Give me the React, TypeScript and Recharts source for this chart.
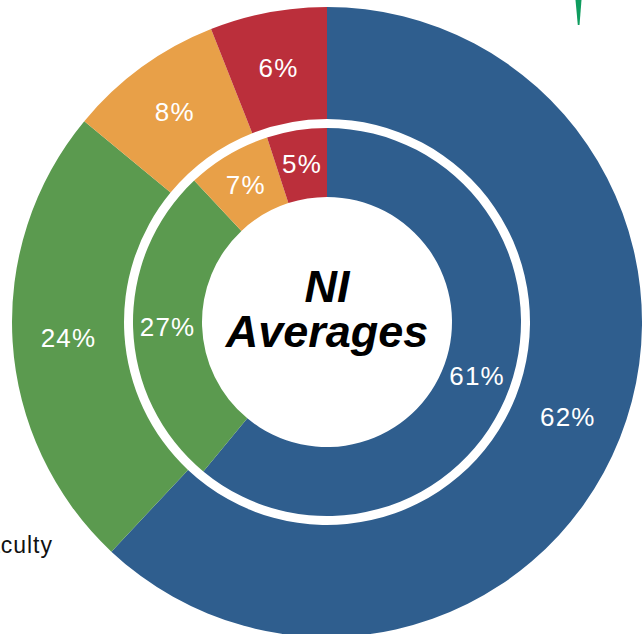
import { Pie, PieChart, Cell, Customized } from "recharts";

const categories = ["Students", "Faculty", "Staff", "Other"];
const outerValues = [62, 24, 8, 6];
const innerValues = [61, 27, 7, 5];
const colors = ["#2F5E8E", "#5B9A4F", "#E8A048", "#BB2F3B"];

const outerData = categories.map((name, i) => ({ name, value: outerValues[i] }));
const innerData = categories.map((name, i) => ({ name, value: innerValues[i] }));

const RADIAN = Math.PI / 180;
// recharts offsets numeric cx/cy by the default 5px margin
const CX = 322;
const CY = 317;

function renderLabel(props: any) {
  const { cx, cy, midAngle, innerRadius, outerRadius, value } = props;
  const r = (innerRadius + outerRadius) / 2;
  const x = cx + r * Math.cos(-midAngle * RADIAN);
  const y = cy + r * Math.sin(-midAngle * RADIAN);
  return (
    <text
      x={x}
      y={y}
      fill="#fff"
      textAnchor="middle"
      dominantBaseline="central"
      fontFamily="Liberation Sans, Arial, sans-serif"
      fontSize={26}
      letterSpacing={1.2}
    >
      {value}%
    </text>
  );
}

function Extras() {
  return (
    <g>
      <text
        x={327}
        y={302}
        textAnchor="middle"
        fontFamily="Liberation Sans, Arial, sans-serif"
        fontWeight="bold"
        fontStyle="italic"
        fontSize={45}
        fill="#000"
      >
        NI
      </text>
      <text
        x={327}
        y={347}
        textAnchor="middle"
        fontFamily="Liberation Sans, Arial, sans-serif"
        fontWeight="bold"
        fontStyle="italic"
        fontSize={45}
        fill="#000"
      >
        Averages
      </text>
      <text
        x={53}
        y={553}
        textAnchor="end"
        fontFamily="Liberation Sans, Arial, sans-serif"
        fontSize={23}
        letterSpacing={1}
        fill="#111"
      >
        Faculty
      </text>
      <path d="M575.5,0 L581.5,0 L579.5,25 L577.8,25 Z" fill="#0E9C5E" />
    </g>
  );
}

export default function App() {
  return (
    <div style={{ position: "absolute", left: 0, top: 0, width: 642, height: 634, background: "#fff" }}>
      <PieChart width={642} height={634}>
        <Pie
          data={outerData}
          dataKey="value"
          cx={CX}
          cy={CY}
          innerRadius={203}
          outerRadius={315}
          startAngle={90}
          endAngle={-270}
          stroke="none"
          label={renderLabel}
          labelLine={false}
          isAnimationActive={false}
        >
          {outerData.map((d, i) => (
            <Cell key={d.name} fill={colors[i]} />
          ))}
        </Pie>
        <Pie
          data={innerData}
          dataKey="value"
          cx={CX}
          cy={CY}
          innerRadius={125}
          outerRadius={194}
          startAngle={90}
          endAngle={-270}
          stroke="none"
          label={renderLabel}
          labelLine={false}
          isAnimationActive={false}
        >
          {innerData.map((d, i) => (
            <Cell key={d.name} fill={colors[i]} />
          ))}
        </Pie>
        <Customized component={Extras} />
      </PieChart>
    </div>
  );
}
